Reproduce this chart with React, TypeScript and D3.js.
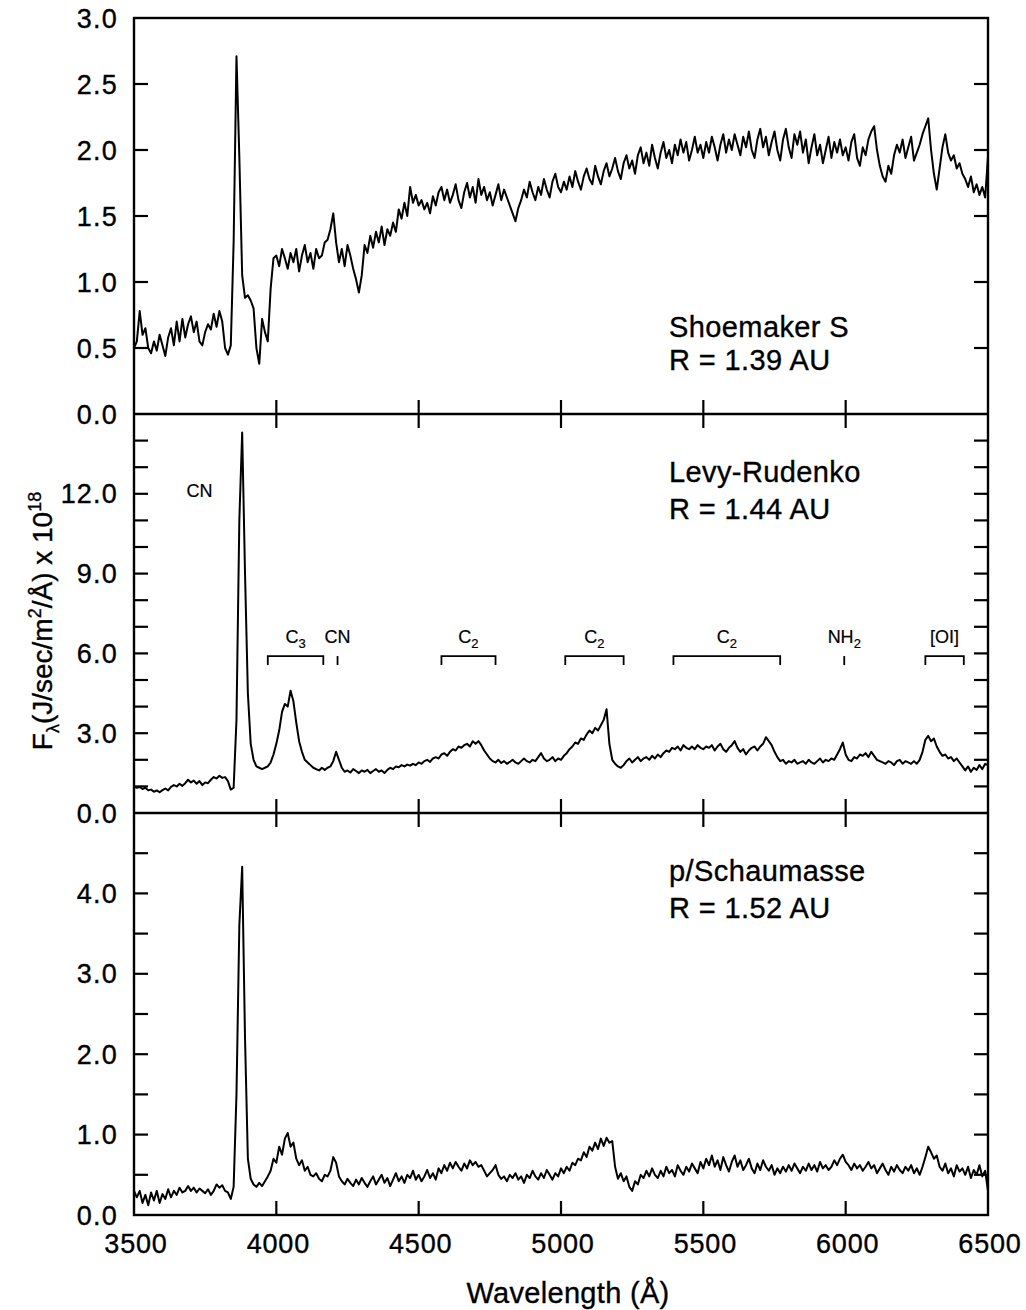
import React from "react";
import * as d3 from "d3";

// Wavelength grid (Å): 3500..6500 every 10 Å
const WL_START = 3500;
const WL_STEP = 10;

// Shoemaker S flux (panel 1)
const SHOEMAKER = [
  0.50,0.55,0.78,0.60,0.65,0.50,0.46,0.55,0.48,0.60,
  0.52,0.44,0.58,0.65,0.52,0.70,0.55,0.72,0.58,0.68,
  0.74,0.62,0.70,0.55,0.52,0.62,0.68,0.64,0.76,0.66,
  0.78,0.70,0.50,0.45,0.52,1.30,2.71,1.95,1.05,0.88,
  0.90,0.86,0.80,0.50,0.38,0.72,0.62,0.55,0.95,1.18,
  1.20,1.12,1.25,1.18,1.10,1.22,1.15,1.25,1.08,1.20,
  1.28,1.15,1.22,1.10,1.25,1.18,1.20,1.30,1.32,1.40,
  1.52,1.30,1.15,1.25,1.12,1.28,1.20,1.10,1.02,0.92,
  1.05,1.28,1.22,1.35,1.26,1.38,1.30,1.42,1.28,1.40,
  1.35,1.45,1.38,1.55,1.48,1.60,1.50,1.72,1.60,1.66,
  1.58,1.62,1.55,1.60,1.52,1.65,1.58,1.68,1.72,1.62,
  1.70,1.60,1.66,1.74,1.62,1.56,1.68,1.75,1.64,1.72,
  1.60,1.78,1.66,1.72,1.62,1.68,1.58,1.66,1.74,1.62,
  1.70,1.64,1.58,1.52,1.46,1.56,1.62,1.70,1.64,1.76,
  1.68,1.62,1.72,1.66,1.78,1.70,1.64,1.76,1.82,1.72,
  1.68,1.76,1.70,1.80,1.72,1.84,1.76,1.70,1.80,1.86,
  1.78,1.74,1.88,1.80,1.74,1.84,1.90,1.80,1.86,1.94,
  1.84,1.78,1.90,1.96,1.86,1.92,1.82,1.96,2.02,1.90,
  1.98,1.88,2.04,1.94,1.86,1.98,2.06,1.94,2.00,1.90,
  2.04,1.96,2.08,1.98,2.06,1.92,2.00,2.10,1.98,2.04,
  1.94,2.06,1.98,2.10,2.02,1.92,2.04,2.12,1.98,2.08,
  2.00,2.12,2.04,1.96,2.10,2.02,2.14,2.00,1.94,2.08,
  2.16,2.02,2.10,1.96,2.06,2.14,2.00,1.92,2.08,2.16,
  2.02,1.94,2.12,2.04,2.14,1.98,2.08,1.90,2.02,2.12,
  1.96,2.04,1.90,2.00,2.10,1.94,2.06,1.98,2.08,1.96,
  2.02,1.92,2.06,2.12,1.94,1.88,2.02,1.96,2.08,2.14,
  2.18,2.00,1.88,1.80,1.76,1.88,1.82,1.96,2.04,1.98,
  2.08,1.94,2.02,2.10,1.92,1.98,2.04,2.12,2.18,2.24,
  2.00,1.82,1.70,1.86,2.02,2.12,1.98,1.92,1.96,1.86,
  1.90,1.82,1.78,1.72,1.80,1.68,1.74,1.66,1.72,1.64,
  1.95,
];

// Levy-Rudenko flux (panel 2)
const LEVY = [
  1.00,0.95,0.98,0.90,0.95,0.85,0.88,0.80,0.85,0.78,
  0.86,0.92,0.85,0.98,1.05,1.00,1.10,1.02,1.12,1.25,
  1.15,1.22,1.10,1.20,1.05,1.15,1.12,1.25,1.35,1.30,
  1.40,1.32,1.35,1.20,0.88,0.95,3.50,11.0,14.3,9.00,
  4.50,2.60,2.00,1.75,1.70,1.65,1.70,1.75,1.90,2.20,
  2.60,3.10,3.80,4.10,4.00,4.60,4.20,3.40,2.70,2.30,
  2.00,1.90,1.80,1.70,1.65,1.60,1.70,1.62,1.70,1.75,
  1.95,2.30,2.00,1.70,1.55,1.60,1.52,1.65,1.58,1.50,
  1.60,1.55,1.62,1.50,1.58,1.65,1.55,1.60,1.50,1.62,
  1.70,1.65,1.75,1.72,1.80,1.75,1.82,1.78,1.85,1.80,
  1.90,1.85,1.95,2.00,1.92,2.05,2.10,2.05,2.20,2.25,
  2.15,2.30,2.40,2.35,2.50,2.45,2.55,2.60,2.50,2.70,
  2.60,2.70,2.55,2.35,2.20,2.05,1.95,1.90,2.00,1.88,
  1.95,1.85,1.92,2.00,1.90,1.85,1.95,2.05,1.95,1.90,
  2.00,1.95,2.10,2.25,2.05,1.95,2.00,2.10,1.95,2.05,
  2.00,2.15,2.25,2.40,2.50,2.65,2.60,2.80,2.75,2.95,
  3.10,3.00,3.20,3.10,3.30,3.50,3.90,2.60,2.00,1.85,
  1.75,1.70,1.80,1.95,2.05,1.90,2.00,2.10,1.95,2.05,
  2.10,2.00,2.15,2.05,2.20,2.10,2.25,2.35,2.30,2.45,
  2.40,2.50,2.35,2.55,2.45,2.40,2.50,2.40,2.55,2.45,
  2.40,2.50,2.45,2.55,2.35,2.50,2.60,2.40,2.30,2.45,
  2.55,2.70,2.45,2.30,2.40,2.20,2.35,2.45,2.50,2.35,
  2.50,2.60,2.85,2.70,2.55,2.30,2.10,1.95,2.00,1.85,
  1.95,1.90,2.00,1.85,1.90,1.95,1.85,2.00,1.90,1.85,
  1.95,2.05,1.90,2.00,1.95,2.05,2.00,2.20,2.40,2.65,
  2.20,2.00,1.95,2.10,2.05,2.20,2.15,2.25,2.10,2.30,
  2.15,2.00,1.95,1.90,1.85,1.95,1.90,1.80,1.95,2.00,
  1.85,1.95,1.90,1.85,1.95,1.85,2.00,2.30,2.75,2.90,
  2.70,2.80,2.50,2.30,2.15,2.20,2.05,2.10,1.95,2.05,
  1.90,1.75,1.60,1.75,1.55,1.70,1.62,1.80,1.65,1.85,
  1.80,
];

// p/Schaumasse flux (panel 3)
const SCHAUMASSE = [
  0.30,0.22,0.30,0.15,0.25,0.12,0.28,0.18,0.30,0.15,
  0.26,0.20,0.32,0.22,0.30,0.25,0.34,0.28,0.30,0.36,
  0.30,0.34,0.28,0.33,0.30,0.27,0.32,0.25,0.30,0.38,
  0.34,0.37,0.30,0.28,0.20,0.35,1.50,3.60,4.33,2.20,
  0.70,0.45,0.38,0.35,0.40,0.36,0.42,0.48,0.55,0.70,
  0.65,0.85,0.75,0.95,1.02,0.85,0.90,0.70,0.62,0.68,
  0.55,0.60,0.50,0.48,0.52,0.45,0.42,0.50,0.48,0.55,
  0.72,0.65,0.48,0.42,0.38,0.45,0.40,0.36,0.44,0.38,
  0.46,0.40,0.35,0.42,0.48,0.38,0.44,0.50,0.40,0.46,
  0.36,0.44,0.52,0.42,0.48,0.40,0.50,0.46,0.55,0.44,
  0.50,0.42,0.48,0.56,0.46,0.52,0.44,0.58,0.52,0.62,
  0.55,0.65,0.58,0.66,0.60,0.55,0.64,0.58,0.68,0.62,
  0.66,0.60,0.62,0.55,0.48,0.52,0.56,0.62,0.50,0.45,
  0.48,0.42,0.50,0.46,0.52,0.44,0.48,0.40,0.50,0.46,
  0.55,0.48,0.44,0.52,0.46,0.56,0.50,0.44,0.52,0.48,
  0.58,0.52,0.60,0.55,0.65,0.62,0.70,0.68,0.78,0.72,
  0.85,0.80,0.90,0.82,0.95,0.86,0.96,0.90,0.92,0.60,
  0.45,0.52,0.42,0.48,0.35,0.30,0.42,0.38,0.50,0.46,
  0.55,0.48,0.58,0.50,0.46,0.55,0.48,0.60,0.52,0.56,
  0.48,0.62,0.55,0.50,0.60,0.54,0.64,0.58,0.52,0.66,
  0.58,0.70,0.62,0.74,0.60,0.68,0.56,0.72,0.62,0.54,
  0.66,0.74,0.60,0.68,0.56,0.62,0.70,0.58,0.52,0.64,
  0.56,0.68,0.60,0.55,0.62,0.50,0.58,0.52,0.60,0.54,
  0.62,0.55,0.64,0.58,0.52,0.60,0.55,0.64,0.56,0.62,
  0.54,0.66,0.58,0.62,0.56,0.60,0.68,0.62,0.70,0.75,
  0.66,0.62,0.56,0.64,0.58,0.62,0.55,0.60,0.66,0.58,
  0.62,0.52,0.58,0.64,0.56,0.50,0.60,0.54,0.62,0.56,
  0.52,0.60,0.55,0.62,0.52,0.58,0.50,0.60,0.72,0.85,
  0.78,0.70,0.74,0.60,0.55,0.64,0.52,0.58,0.48,0.62,
  0.54,0.58,0.50,0.60,0.46,0.56,0.50,0.62,0.48,0.55,
  0.30,
];

const X_TICKS = [3500, 4000, 4500, 5000, 5500, 6000, 6500];

const SHOEMAKER_TICKS = [0, 0.5, 1, 1.5, 2, 2.5, 3];
const SHOEMAKER_LABELS = [0, 0.5, 1, 1.5, 2, 2.5, 3];
const LEVY_TICKS = [0, 1, 2, 3, 4, 5, 6, 7, 8, 9, 10, 11, 12, 13, 14, 15];
const LEVY_LABELS = [0, 3, 6, 9, 12];
const SCHAUMASSE_TICKS = [0, 0.5, 1, 1.5, 2, 2.5, 3, 3.5, 4, 4.5, 5];
const SCHAUMASSE_LABELS = [0, 1, 2, 3, 4];

const PANEL_NAMES = ["Shoemaker S", "Levy-Rudenko", "p/Schaumasse"];
const PANEL_DIST = ["R = 1.39 AU", "R = 1.44 AU", "R = 1.52 AU"];

// Emission band annotations on Levy-Rudenko panel
const BANDS = [
  { label: "C", sub: "3", from: 3970, to: 4165 },
  { label: "C", sub: "2", from: 4580, to: 4770 },
  { label: "C", sub: "2", from: 5015, to: 5220 },
  { label: "C", sub: "2", from: 5395, to: 5770 },
  { label: "[OI]", sub: "", from: 6280, to: 6415 },
];
const LINES = [
  { label: "CN", sub: "", at: 4215 },
  { label: "NH", sub: "2", at: 5995 },
];
const CN_LABEL = { label: "CN", at: 3730 };

const FONT = "'Liberation Sans', Arial, Helvetica, sans-serif";

export default function App() {
  const X0 = 134, X1 = 988;
  const x = d3.scaleLinear().domain([3500, 6500]).range([X0, X1]);

  const panels = [
    { data: SHOEMAKER, max: 3, top: 18, bottom: 414, ticks: SHOEMAKER_TICKS, labels: SHOEMAKER_LABELS, textY: [337, 370] },
    { data: LEVY, max: 15, top: 414, bottom: 813, ticks: LEVY_TICKS, labels: LEVY_LABELS, textY: [482, 519] },
    { data: SCHAUMASSE, max: 5, top: 813, bottom: 1215, ticks: SCHAUMASSE_TICKS, labels: SCHAUMASSE_LABELS, textY: [881, 918] },
  ];
  const fmt = d3.format(".1f");
  const TL = 14;
  const ink = { fill: "#000", stroke: "#000", strokeWidth: 0.35 };

  return (
    <svg width={1026} height={1310} style={{ position: "absolute", left: 0, top: 0, background: "#fff" }} fontFamily={FONT}>
      <rect x={0} y={0} width={1026} height={1310} fill="#fff" />
      {panels.map((p, i) => {
        const y = d3.scaleLinear().domain([0, p.max]).range([p.bottom, p.top]);
        const line = d3.line<number>()
          .x((_, k) => x(WL_START + k * WL_STEP))
          .y((v) => y(v));
        const inner = p.ticks.filter((t) => t > 0 && t < p.max);
        return (
          <g key={i}>
            {inner.map((t) => (
              <g key={t}>
                <line x1={X0} x2={X0 + TL} y1={y(t)} y2={y(t)} stroke="#000" strokeWidth={2.2} />
                <line x1={X1 - TL} x2={X1} y1={y(t)} y2={y(t)} stroke="#000" strokeWidth={2.2} />
              </g>
            ))}
            {p.labels.map((t) => (
              <text key={"l" + t} x={118} y={y(t) + 9.5} fontSize={27} textAnchor="end" letterSpacing={1.2} {...ink}>
                {fmt(t)}
              </text>
            ))}
            {X_TICKS.filter((v) => v > 3500 && v < 6500).map((v) => (
              <g key={"x" + v}>
                <line x1={x(v)} x2={x(v)} y1={p.bottom} y2={p.bottom - TL} stroke="#000" strokeWidth={2.2} />
                {i < 2 && <line x1={x(v)} x2={x(v)} y1={p.bottom} y2={p.bottom + TL} stroke="#000" strokeWidth={2.2} />}
              </g>
            ))}
            <path d={line(p.data) || ""} fill="none" stroke="#000" strokeWidth={2} strokeLinejoin="round" />
            <text x={669} y={p.textY[0]} fontSize={29} letterSpacing={0.4} {...ink}>{PANEL_NAMES[i]}</text>
            <text x={669} y={p.textY[1]} fontSize={29} letterSpacing={0.4} {...ink}>{PANEL_DIST[i]}</text>
            {i === 1 && (
              <g fontSize={18} fill="#000">
                <text x={x(CN_LABEL.at)} y={y(12.0) + 3} textAnchor="middle" {...ink} strokeWidth={0.2}>{CN_LABEL.label}</text>
                {BANDS.map((b, k) => {
                  const yb = y(5.9);
                  return (
                    <g key={"b" + k}>
                      <path d={`M${x(b.from)},${yb + 9}V${yb}H${x(b.to)}V${yb + 9}`} fill="none" stroke="#000" strokeWidth={1.8} />
                      <text x={(x(b.from) + x(b.to)) / 2} y={yb - 13} textAnchor="middle" {...ink} strokeWidth={0.2}>
                        {b.label}
                        {b.sub && <tspan dy={5} fontSize={13}>{b.sub}</tspan>}
                      </text>
                    </g>
                  );
                })}
                {LINES.map((l, k) => {
                  const yb = y(5.9);
                  return (
                    <g key={"s" + k}>
                      <line x1={x(l.at)} x2={x(l.at)} y1={yb} y2={yb + 9} stroke="#000" strokeWidth={1.8} />
                      <text x={x(l.at)} y={yb - 13} textAnchor="middle" {...ink} strokeWidth={0.2}>
                        {l.label}
                        {l.sub && <tspan dy={5} fontSize={13}>{l.sub}</tspan>}
                      </text>
                    </g>
                  );
                })}
              </g>
            )}
          </g>
        );
      })}
      <rect x={X0} y={18} width={X1 - X0} height={1215 - 18} fill="none" stroke="#000" strokeWidth={2.4} />
      <line x1={X0} x2={X1} y1={414} y2={414} stroke="#000" strokeWidth={2.4} />
      <line x1={X0} x2={X1} y1={813} y2={813} stroke="#000" strokeWidth={2.4} />
      {X_TICKS.map((v) => (
        <text key={"xl" + v} x={x(v) + 2} y={1253} fontSize={27} textAnchor="middle" letterSpacing={0.8} {...ink}>{v}</text>
      ))}
      <text x={568} y={1303} fontSize={29} textAnchor="middle" letterSpacing={0.3} {...ink}>Wavelength (Å)</text>
      <g transform="translate(52,621) rotate(-90)">
        <text x={0} y={0} fontSize={28} textAnchor="middle" {...ink}>
          <tspan>F</tspan>
          <tspan dy={7} fontSize={18}>λ</tspan>
          <tspan dy={-7}>(J/sec/m</tspan>
          <tspan dy={-11} fontSize={18}>2</tspan>
          <tspan dy={11}>/Å) x 10</tspan>
          <tspan dy={-11} fontSize={18}>18</tspan>
        </text>
      </g>
    </svg>
  );
}
